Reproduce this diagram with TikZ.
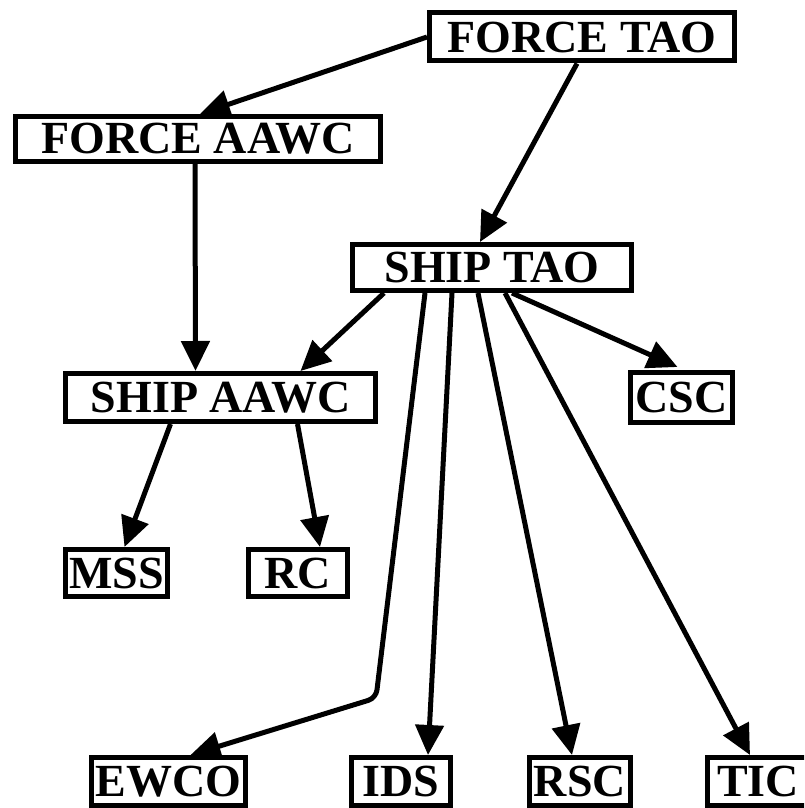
\documentclass[tikz,border=0pt]{standalone}
\usepackage{fontspec}
\setmainfont{Liberation Serif}
\usetikzlibrary{arrows.meta,backgrounds}
\begin{document}
\begin{tikzpicture}[x=1pt,y=-1pt,
  box/.style={draw=black,line width=5pt,fill=white,inner sep=0pt,
    font=\fontsize{46}{46}\selectfont\bfseries},
  conn/.style={line width=5pt,-{Triangle[length=30pt,width=28pt]}}]
\useasboundingbox (0,0) rectangle (804,808);
\clip (0,0) rectangle (804,808);
\node[box,minimum width=305pt,minimum height=48pt] (fta) at (582,37) {FORCE TAO};
\node[box,minimum width=365pt,minimum height=45pt] (faawc) at (198,139) {FORCE AAWC};
\node[box,minimum width=279pt,minimum height=46pt] (sta) at (492,267.5) {SHIP TAO};
\node[box,minimum width=310pt,minimum height=48pt] (saawc) at (220.5,397.5) {SHIP AAWC};
\node[box,minimum width=102pt,minimum height=50pt] (csc) at (681.5,397.5) {CSC};
\node[box,minimum width=102pt,minimum height=47pt] (mss) at (116.5,573) {MSS};
\node[box,minimum width=99pt,minimum height=47pt] (rc) at (298,573) {RC};
\node[box,minimum width=154pt,minimum height=48pt,anchor=north] (ewco) at (168.5,755) {EWCO};
\node[box,minimum width=99pt,minimum height=48pt,anchor=north] (ids) at (401,755) {IDS};
\node[box,minimum width=101pt,minimum height=48pt,anchor=north] (rsc) at (580,755) {RSC};
\node[box,minimum width=101pt,minimum height=48pt,anchor=north] (tic) at (758,755) {TIC};
\coordinate (bend) at (376,698);
\begin{scope}[on background layer]
\draw[conn] (fta.west) -- ([xshift=2pt]faawc.north);
\draw[conn] ([xshift=-5pt]fta.south) -- ([xshift=-12pt]sta.north);
\draw[conn] ([xshift=-3pt]faawc.south) -- ([xshift=-25pt]saawc.north);
\draw[conn] ([xshift=-108pt]sta.south) -- ([xshift=80pt]saawc.north);
\draw[conn] ([xshift=20pt]sta.south) -- ([xshift=-4pt,yshift=3pt]csc.north);
\draw[conn] ([xshift=-50pt]saawc.south) -- ([xshift=8pt]mss.north);
\draw[conn] ([xshift=77pt]saawc.south) -- ([xshift=22pt]rc.north);
\draw[conn,rounded corners=8pt] ([xshift=-67pt]sta.south) -- (bend) -- ([xshift=22pt]ewco.north);
\draw[conn] ([xshift=-40pt]sta.south) -- ([xshift=27pt]ids.north);
\draw[conn] ([xshift=-14pt]sta.south) -- ([xshift=-8pt]rsc.north);
\draw[conn] ([xshift=13pt]sta.south) -- ([xshift=-8pt]tic.north);
\end{scope}
\end{tikzpicture}
\end{document}
